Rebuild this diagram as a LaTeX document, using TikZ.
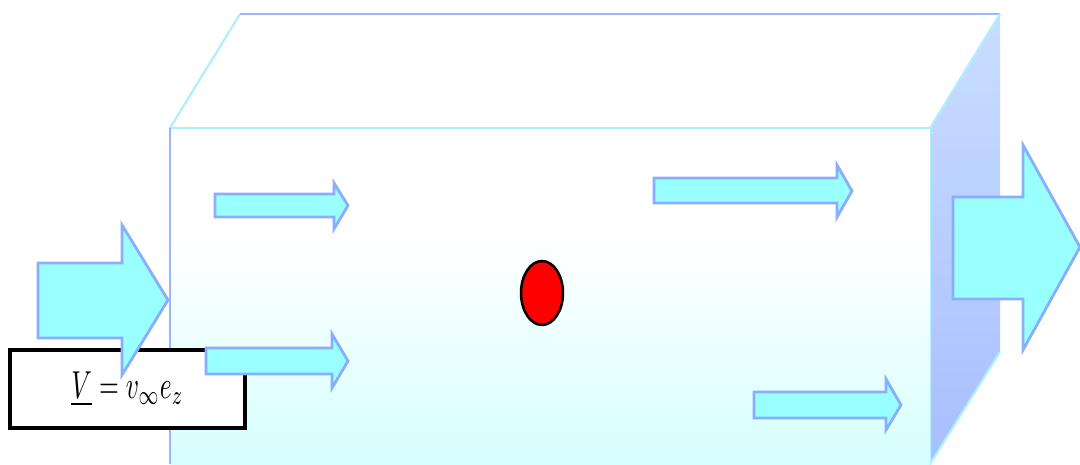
\documentclass[tikz,border=0pt]{standalone}
\usepackage{graphicx}
\definecolor{arrowfill}{HTML}{99FFFF}
\definecolor{arrowline}{HTML}{8AAEFF}
\definecolor{edgeblue}{HTML}{99B6FF}
\definecolor{edgecyan}{HTML}{B0EEFF}
\definecolor{frontbot}{HTML}{D6FFFF}
\definecolor{sidetop}{HTML}{C8DEFF}
\definecolor{sidebot}{HTML}{A8BEFF}
\tikzset{
  blockarrow/.style={fill=arrowfill, draw=arrowline, line width=2.8pt, line join=miter},
  labelbox/.style={draw=black, fill=white, line width=3.2pt, minimum width=235pt, minimum height=78pt, inner sep=0pt},
  dot/.style={ellipse, draw=black, fill=red, line width=2.5pt, minimum width=42pt, minimum height=64pt, inner sep=0pt}
}
\usetikzlibrary{shapes.geometric}
\begin{document}
\begin{tikzpicture}[x=1pt,y=-1pt]
\useasboundingbox (0,0) rectangle (1080,464);
% cube: top face
\fill[white] (170,128) -- (240,14) -- (1000,14) -- (930,128) -- cycle;
\draw[edgecyan, line width=2.2pt] (170,128) -- (240,14);
\draw[edgeblue, line width=2.2pt] (240,14) -- (1000,14);
% right face
\shade[top color=sidetop, bottom color=sidebot] (930,128) -- (1000,14) -- (1000,352) -- (930,464) -- cycle;
\draw[edgecyan, line width=2.2pt] (1000,14) -- (930,128) -- (930,464) -- (1000,352);
% front face
\fill[white] (170,128) rectangle (930,464);
\shade[top color=white, bottom color=frontbot] (170,240) rectangle (930,464);
\draw[edgecyan, line width=2.5pt] (170,128) -- (930,128);
\draw[edgeblue, line width=1.8pt] (170,128) -- (170,464);
% label box
\node[labelbox] (lab) at (127.5,389) {\scalebox{2.55}[3.9]{$\underline{V}=v_\infty e_z$}};
% red dot
\node[dot] (pt) at (542,293) {};
% big inflow arrow
\draw[blockarrow] (38,263) -- (122,263) -- (122,225) -- (168,300) -- (122,375) -- (122,338) -- (38,338) -- cycle;
% big outflow arrow
\draw[blockarrow] (953,197) -- (1023,197) -- (1023,145) -- (1080,247) -- (1023,350) -- (1023,299) -- (953,299) -- cycle;
% small arrows
\draw[blockarrow] (215,194) -- (334,194) -- (334,183) -- (348,205.5) -- (334,229) -- (334,217) -- (215,217) -- cycle;
\draw[blockarrow] (206,348) -- (332,348) -- (332,334) -- (348,361) -- (332,388) -- (332,374) -- (206,374) -- cycle;
\draw[blockarrow] (654,178) -- (837,178) -- (837,165) -- (852,191) -- (837,217) -- (837,203) -- (654,203) -- cycle;
\draw[blockarrow] (754,392) -- (886,392) -- (886,379) -- (901,405) -- (886,430) -- (886,418) -- (754,418) -- cycle;
\end{tikzpicture}
\end{document}
